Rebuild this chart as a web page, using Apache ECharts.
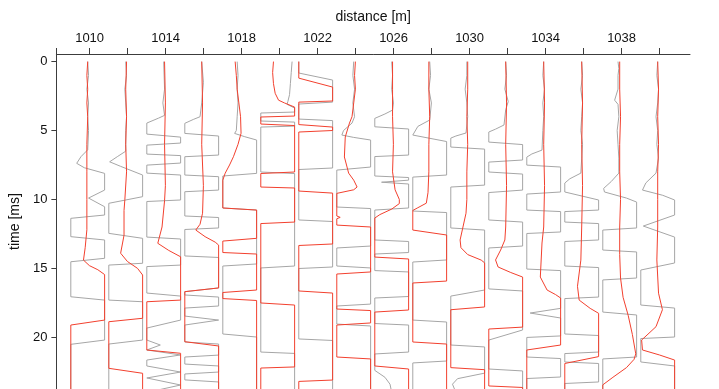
<!DOCTYPE html>
<html><head><meta charset="utf-8">
<script src="https://cdn.jsdelivr.net/npm/echarts@6/dist/echarts.min.js"></script>
<style>html,body{margin:0;padding:0;background:#fff}#c{width:719px;height:389px}</style>
</head><body><div id="c"></div>
<script>
// ---- data: each trace = [time ms, normalised clipped amplitude (-1..1)] ----
const distances = [1010,1012,1014,1016,1018,1020,1022,1024,1026,1028,1030,1032,1034,1036,1038,1040];
const xTickValues = [1008.25,1010,1012,1014,1016,1018,1020,1022,1024,1026,1028,1030,1032,1034,1036,1038,1040];
const xLabelValues = [1010,1014,1018,1022,1026,1030,1034,1038];
const yTickValues = [0,5,10,15,20];

const g1010 = [[0,0],[1,0.05],[2,-0.05],[3,0.05],[4,0],[5,0.05],[6.4,0],[6.9,-0.4],[7.38,-0.65],[7.7,-0.2],[8.11,1],[9.32,1],[9.9,0.05],[10.53,1],[11.13,1],[11.37,-1],[12.70,-1],[12.94,1],[14.27,1],[14.52,-1],[17.06,-1],[17.30,1],[20.20,1],[20.51,-1],[24,-1]];
const r1010 = [[0,0],[1,-0.05],[2,0],[3,-0.05],[4,0],[6,-0.05],[8,-0.05],[10,-0.05],[12.2,-0.05],[13.5,-0.15],[14.4,-0.25],[14.8,0.1],[15.1,0.6],[15.45,1],[18.75,1],[19.11,-1],[24,-1]];
const g1012 = [[0,0],[1,0.05],[2,-0.05],[3,0],[4,0.05],[5,0],[6.5,0],[6.9,-0.5],[7.27,-0.95],[7.6,-0.3],[8.23,1],[9.8,1],[10.28,-1],[12.46,-1],[12.82,1],[14.63,1],[14.76,-1],[17.30,-1],[17.42,1],[20.20,1],[20.49,-1],[24,-1]];
const r1012 = [[0,0.05],[2,0],[4,0.05],[6,0],[8,0.05],[10,-0.05],[10.8,-0.1],[12.6,-0.1],[13.9,-0.3],[14.5,0.1],[15.0,0.7],[15.48,1],[18.62,1],[18.87,-1],[22.25,-1],[22.61,1],[24,1]];
const g1014 = [[0,0],[2,0.05],[3,-0.05],[3.9,0.05],[4.1,-0.3],[4.46,-1],[5.26,-1],[5.48,1],[5.91,1],[6.06,-1],[6.71,-1],[6.82,1],[7.36,1],[7.51,-1],[8.09,-1],[8.23,1],[10.04,1],[10.15,-1],[12.73,-1],[12.87,1],[14.76,1],[14.87,-1],[16.79,-1],[17.01,1],[18.75,1],[19.33,-1],[20.2,-1],[20.56,-0.2],[20.92,-1],[21.28,1],[21.65,-1],[22.08,-1],[22.52,1],[22.95,-1],[23.46,1],[24,-1]];
const r1014 = [[0,0.05],[3,0.1],[6,0.05],[9,0.1],[10.1,0.05],[12.0,-0.1],[13.18,-0.35],[13.7,0.3],[14.16,1],[17.3,1],[17.42,-1],[20.92,-1],[21.16,1],[24,1]];
const g1016 = [[0,0],[1.5,0.1],[3,0],[4.0,-0.1],[4.2,-0.5],[4.48,-1],[5.21,-1],[5.40,1],[6.78,1],[6.90,-1],[8.23,-1],[8.35,1],[9.32,1],[9.44,-1],[11.20,-1],[11.31,1],[12.07,1],[12.18,-1],[14.10,-1],[14.21,1],[16.42,1],[16.69,-1],[16.93,-1],[17.08,1],[17.73,1],[17.88,-1],[18.46,-1],[18.75,1],[19.11,-1],[20.34,-1],[20.49,1],[21.29,1],[21.43,-1],[21.94,-1],[22.08,1],[22.52,1],[22.66,-1],[23.09,-1],[23.24,1],[24,1]];
const r1016 = [[0,0],[3,0.05],[6,0],[9,0.1],[11,0.05],[11.8,-0.1],[12.22,-0.35],[12.7,0.2],[13.1,0.8],[13.31,1],[16.42,1],[16.69,-1],[20.32,-1],[20.63,1],[24,1]];
const g1018 = [[0,-0.15],[1,-0.1],[2,-0.15],[3,-0.1],[4,-0.15],[5.0,-0.2],[5.21,-0.3],[5.45,0.3],[5.69,1],[8.11,1],[8.30,-1],[10.62,-1],[10.77,1],[14.68,1],[14.83,-1],[19.76,-1],[19.98,1],[24,1]];
const r1018 = [[0,-0.27],[1,-0.2],[2,-0.15],[3,-0.05],[4,0.05],[5.2,0.08],[6,-0.1],[6.9,-0.37],[7.5,-0.6],[8.1,-0.86],[8.6,-1],[10.62,-1],[10.77,1],[12.82,1],[13.02,-1],[13.85,-1],[13.96,1],[16.57,1],[16.75,-1],[17.19,-1],[17.33,1],[24,1]];
const g1020 = [[0,0.85],[0.8,0.8],[1.6,0.75],[2.4,0.7],[2.9,0.6],[3.1,0.55],[3.37,1],[3.66,1],[3.73,-1],[4.31,-1],[4.39,1],[4.68,1],[4.75,-1],[8.01,-1],[8.12,1],[14.83,1],[14.97,-1],[21.07,-1],[21.17,1],[24,1]];
const r1020 = [[0,-0.25],[0.8,-0.3],[1.6,-0.25],[2.3,-0.15],[2.8,0.05],[3.0,0.4],[3.3,1],[3.95,1],[4.02,-1],[4.53,-1],[4.64,1],[8.01,1],[8.12,-1],[9.10,-1],[9.17,1],[11.64,1],[11.75,-1],[17.51,-1],[17.66,1],[22.15,1],[22.23,-1],[24,-1]];
const g1022 = [[0,-1],[0.83,-1],[1.34,1],[2.94,1],[3.08,-1],[4.17,-1],[4.28,1],[7.72,1],[7.83,-1],[11.49,-1],[11.60,1],[14.90,1],[15.01,-1],[20.12,-1],[20.23,1],[24,1]];
const r1022 = [[0,-1],[1.2,-1],[1.85,1],[2.86,1],[2.94,-1],[4.57,-1],[4.75,1],[5.0,1],[5.11,-1],[9.39,-1],[9.54,1],[13.23,1],[13.34,-1],[16.64,-1],[16.79,1],[23.1,1],[23.2,-1],[24,-1]];
const g1024 = [[0,0],[1,-0.05],[2,0.05],[3,-0.05],[4,0.05],[4.46,-0.1],[5.0,-0.6],[5.33,-0.7],[5.5,0],[5.69,1],[7.65,1],[7.87,-1],[10.55,-1],[10.66,1],[13.38,1],[13.52,-1],[14.83,-1],[14.97,1],[17.59,1],[17.73,-1],[19.04,-1],[19.18,1],[24,1]];
const r1024 = [[0,0.1],[1,0.05],[2,0.1],[3,0],[4,-0.1],[4.46,-0.25],[5.47,-0.5],[6.92,-0.55],[8.09,-0.3],[8.6,0],[9.1,0.2],[9.3,0],[9.56,-1],[11.2,-1],[11.3,-0.8],[11.4,-1],[11.86,-1],[12.0,1],[15.26,1],[15.41,-1],[17.95,-1],[18.06,1],[18.96,1],[19.11,-1],[21.43,-1],[21.57,1],[24,1]];
const g1026 = [[0,0],[1,0.05],[2,0],[3,0.1],[3.52,0.05],[3.8,-0.4],[4.12,-1],[4.73,-1],[4.89,1],[6.78,1],[6.89,-1],[8.30,-1],[8.41,1],[8.6,1],[8.75,-0.6],[8.88,1],[10.62,1],[10.77,-1],[12.94,-1],[13.05,1],[13.85,1],[13.96,-1],[15.16,-1],[15.26,1],[17.04,1],[17.15,-1],[19.0,-1],[19.11,1],[21.07,1],[21.21,-1],[22.4,-1],[22.9,-0.4],[23.4,-0.1],[24,0]];
const r1026 = [[0,0.05],[2,0.05],[4,0.05],[6,0.1],[8,0.05],[9.3,0.2],[10.0,0.45],[10.3,0.45],[10.7,0],[11.1,-0.7],[11.35,-1],[14.18,-1],[14.32,1],[18.02,1],[18.17,-1],[22.08,-1],[22.3,1],[24,1]];
const g1028 = [[0,0],[1,0.05],[2,-0.05],[3,0.1],[4.24,0],[4.7,-0.7],[5.33,-1],[5.8,1],[8.23,1],[8.38,-1],[10.84,-1],[10.95,1],[14.39,1],[14.54,-1],[18.75,-1],[18.89,1],[21.72,1],[21.86,-1],[24,-1]];
const r1028 = [[0,-0.05],[2,-0.05],[4,0],[6,-0.05],[8,-0.05],[9.5,-0.1],[10.27,-0.2],[10.6,-0.7],[10.8,-1],[12.22,-1],[12.58,1],[15.92,1],[16.06,-1],[20.34,-1],[20.49,1],[24,1]];
const g1030 = [[0,-0.05],[1,-0.05],[2,-0.15],[3,-0.05],[4,0],[5.18,-0.1],[5.4,-0.7],[5.55,-1],[6.2,-1],[6.35,1],[8.96,1],[9.10,-1],[12.07,-1],[12.22,1],[16.57,1],[17.01,-1],[20.56,-1],[20.70,1],[22.6,1],[23.0,-0.6],[23.4,-0.9],[24,-0.7]];
const r1030 = [[0,0],[2,0],[4,-0.05],[6,0],[8,-0.05],[10,-0.05],[11,-0.1],[12.94,-0.45],[13.5,-0.4],[14.0,0],[14.4,0.8],[14.6,1],[17.8,1],[18.0,-1],[22.2,-1],[22.35,1],[24,1]];
const g1032 = [[0,0],[1,0.05],[2,-0.05],[2.9,0.15],[3.5,0],[4.6,-0.1],[4.9,-0.6],[5.11,-1],[5.84,-1],[6.02,1],[7.14,1],[7.29,-1],[8.01,-1],[8.16,1],[9.32,1],[9.5,-1],[11.49,-1],[11.64,1],[13.38,1],[13.52,-1],[16.49,-1],[16.64,1],[19.47,1],[20.2,-1],[22.3,-1],[22.44,1],[24,1]];
const r1032 = [[0,0],[3,0.05],[6,0],[9,0.05],[12,0],[12.94,-0.05],[13.67,-0.3],[14.39,-0.6],[14.9,-0.45],[15.3,0.3],[15.63,1],[19.26,1],[19.4,-1],[23.53,-1],[23.64,1],[24,1]];
const g1034 = [[0,0],[1,-0.05],[2,0.05],[3,-0.05],[4,0],[5,-0.05],[6.42,-0.1],[6.7,-0.7],[6.93,-1],[7.51,-1],[7.65,1],[9.46,1],[9.61,-1],[10.77,-1],[10.88,1],[12.36,1],[12.47,-1],[15.05,-1],[15.16,1],[17.9,1],[18.24,-0.8],[18.6,1],[19.9,1],[20.01,-1],[21.43,-1],[21.54,1],[22.88,1],[22.99,-1],[24,-1]];
const r1034 = [[0,0],[3,0.05],[6,0],[9,0.05],[12,0],[13.16,-0.1],[15.63,-0.2],[16.57,0.2],[16.9,0.7],[17.15,1],[20.56,1],[20.92,-1],[24,-1]];
const g1036 = [[0,0],[1,0.05],[2,-0.05],[3,0.05],[4,0],[5,-0.05],[6,0.05],[7,0],[8.09,-0.05],[8.5,-0.7],[8.81,-1],[9.46,-1],[10.04,1],[10.77,1],[10.88,-1],[11.64,-1],[11.75,1],[12.94,1],[13.05,-1],[14.83,-1],[14.94,1],[17.08,1],[17.19,-1],[19.76,-1],[19.87,1],[21.07,1],[21.18,-1],[21.79,-1],[21.9,1],[23.24,1],[23.35,-1],[24,-1]];
const r1036 = [[0,0],[3,0.05],[6,0],[9,0.05],[12,0],[14.4,-0.05],[16.3,-0.25],[17.3,-0.15],[17.9,0.5],[18.26,1],[21.4,1],[21.9,-1],[24,-1]];
const g1038 = [[0,-0.1],[0.5,-0.05],[1,-0.1],[2,-0.1],[2.8,-0.3],[3.1,-0.1],[4,-0.05],[5,-0.15],[6,-0.1],[7,-0.05],[8.09,-0.05],[8.7,-0.5],[9.2,-0.95],[9.46,-0.9],[9.9,0.4],[10.19,1],[12.07,1],[12.22,-1],[13.67,-1],[13.81,1],[15.7,1],[15.84,-1],[18.17,-1],[18.38,1],[21.43,1],[21.57,-1],[24,-1]];
const r1038 = [[0,0],[2,0],[4,0.05],[6,0],[8,0],[10,0.05],[12,0],[14,0],[15.7,0.05],[17.1,0.2],[18.4,0.5],[19.8,0.75],[21.2,0.95],[21.6,0.85],[22.2,0.4],[22.9,-0.4],[23.45,-1],[24,-1]];
const g1040 = [[0,0],[1,-0.05],[2,0.05],[3,0],[4,-0.1],[5,0],[6,-0.05],[7,0.05],[8.09,-0.1],[8.8,-0.7],[9.32,-0.9],[9.7,0.3],[10.04,1],[11.13,1],[11.93,-0.85],[12.73,1],[14.61,1],[15.12,-1],[17.66,-1],[17.88,1],[19.98,1],[20.09,-1],[21.79,-1],[22.08,1],[24,1]];
const r1040 = [[0,0],[2,0.05],[4,0],[6,0.05],[8,0],[10,0],[12,0],[14.39,-0.05],[16.8,0.05],[18.0,0.28],[19.23,-0.1],[20.2,-0.95],[20.92,-0.9],[21.28,0.1],[21.65,1],[24,1]];

const grayTraces = [g1010,g1012,g1014,g1016,g1018,g1020,g1022,g1024,g1026,g1028,g1030,g1032,g1034,g1036,g1038,g1040];
const redTraces  = [r1010,r1012,r1014,r1016,r1018,r1020,r1022,r1024,r1026,r1028,r1030,r1032,r1034,r1036,r1038,r1040];

// ---- plotting constants ----
const X_MIN = 1008.25, X_MAX = 1041.6, Y_MIN = -0.55, Y_MAX = 23.75;
const TRACE_SHIFT = -0.1, CLIP_HALF = 0.89;

function toXY(d, arr){ return arr.map(p => [d + TRACE_SHIFT + CLIP_HALF * p[1], p[0]]); }

const series = [];
distances.forEach((d,i) => series.push({type:'line', data:toXY(d, grayTraces[i]), showSymbol:false, silent:true,
  lineStyle:{color:'#a6a6a6', width:1}, z:2}));
distances.forEach((d,i) => series.push({type:'line', data:toXY(d, redTraces[i]), showSymbol:false, silent:true,
  lineStyle:{color:'#f2402e', width:1}, z:3}));

const chart = echarts.init(document.getElementById('c'), null, {renderer:'canvas'});
const axisCol = '#3c3c3c';
const font = 'Liberation Sans, Arial, sans-serif';
const plain = v => String(v);
chart.setOption({
  animation:false,
  backgroundColor:'#fff',
  grid:{left:53, right:29, top:54, bottom:0, containLabel:false},
  xAxis:{type:'value', position:'top', min:X_MIN, max:X_MAX,
    name:'distance [m]', nameLocation:'middle', nameGap:30,
    nameTextStyle:{fontSize:14, color:'#111', fontFamily:font},
    axisLine:{show:true, onZero:false, lineStyle:{color:axisCol, width:1}},
    axisTick:{show:true, inside:false, length:6, customValues:xTickValues, lineStyle:{color:axisCol}},
    axisLabel:{show:true, margin:9, fontSize:13, color:'#111', fontFamily:font, customValues:xLabelValues, formatter:plain},
    splitLine:{show:false}},
  yAxis:{type:'value', inverse:true, min:Y_MIN, max:Y_MAX,
    name:'time [ms]', nameLocation:'middle', nameGap:26, nameRotate:90,
    nameTextStyle:{fontSize:14, color:'#111', fontFamily:font},
    axisLine:{show:true, onZero:false, lineStyle:{color:axisCol, width:1}},
    axisTick:{show:true, inside:false, length:5, customValues:yTickValues, lineStyle:{color:axisCol}},
    axisLabel:{show:true, margin:9, fontSize:13, color:'#111', fontFamily:font, customValues:yTickValues, formatter:plain},
    splitLine:{show:false}},
  series: series
});
</script></body></html>
